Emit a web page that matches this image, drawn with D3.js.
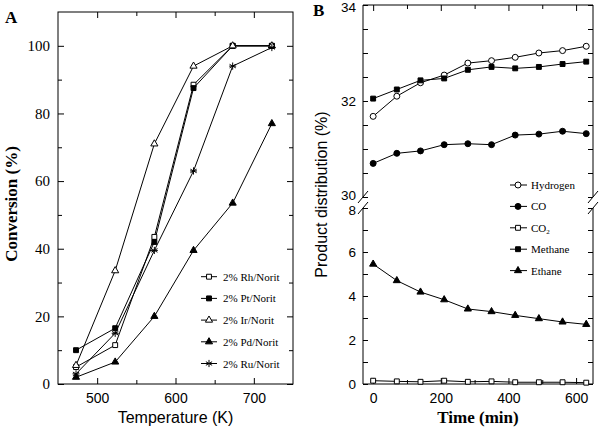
<!DOCTYPE html>
<html><head><meta charset="utf-8">
<script src="https://cdn.jsdelivr.net/npm/d3@7"></script>
<style>body{margin:0;background:#fff}svg{display:block}</style>
</head><body>
<svg id="c" width="600" height="429"></svg>
<script>
// ---------- Panel A data ----------
const temperatures = [473, 523, 573, 623, 673, 723];
const rhNorit = [5, 11.5, 43.5, 88.5, 100, 100];
const ptNorit = [10, 16.5, 42, 87.5, 100, 100];
const irNorit = [5.5, 33.5, 71, 94, 100, 100];
const pdNorit = [2, 6.5, 20, 39.5, 53.5, 77];
const ruNorit = [3, 15, 39.5, 63, 94, 99.5];
const seriesA = [
  {name: "2% Rh/Norit", values: rhNorit, sym: "square", fill: false},
  {name: "2% Pt/Norit", values: ptNorit, sym: "square", fill: true},
  {name: "2% Ir/Norit", values: irNorit, sym: "triangle", fill: false},
  {name: "2% Pd/Norit", values: pdNorit, sym: "triangle", fill: true},
  {name: "2% Ru/Norit", values: ruNorit, sym: "star", fill: false}
];
const xTicksA = [500, 600, 700];
const xMinorA = [550, 650];
const yTicksA = [0, 20, 40, 60, 80, 100];
const yMinorA = [10, 30, 50, 70, 90];

// ---------- Panel B data ----------
const times = [0, 70, 140, 210, 280, 350, 420, 490, 560, 630];
const hydrogen = [31.68, 32.10, 32.38, 32.54, 32.79, 32.84, 32.91, 33.00, 33.05, 33.14];
const methane = [32.05, 32.24, 32.43, 32.47, 32.65, 32.71, 32.68, 32.71, 32.77, 32.82];
const co = [30.70, 30.91, 30.96, 31.09, 31.11, 31.09, 31.29, 31.31, 31.37, 31.32];
const co2 = [0.15, 0.12, 0.10, 0.15, 0.10, 0.12, 0.08, 0.08, 0.08, 0.06];
const ethane = [5.45, 4.70, 4.18, 3.83, 3.41, 3.29, 3.12, 2.97, 2.82, 2.71];
const xTicksB = [0, 200, 400, 600];
const xMinorB = [100, 300, 500];
const yTicksUp = [30, 32, 34];
const yMinorUp = [30.5, 31, 31.5, 32.5, 33, 33.5];
const yTicksLo = [0, 2, 4, 6, 8];
const yMinorLo = [1, 3, 5, 7];

const svg = d3.select("#c");
const serif = "'Liberation Serif','Times New Roman',serif";
const sans = "'Liberation Sans',Arial,sans-serif";

function marker(g, sym, fill, x, y) {
  if (sym === "star") {
    g.append("path").attr("transform", `translate(${x},${y})`)
      .attr("d", d3.symbol(d3.symbolAsterisk, 36)())
      .attr("fill", "none").attr("stroke", "#000").attr("stroke-width", 1);
    g.append("path").attr("d", `M${x-3.5},${y}H${x+3.5}`).attr("stroke", "#000").attr("stroke-width", 1);
    return;
  }
  let type = sym === "square" ? d3.symbolSquare : sym === "triangle" ? d3.symbolTriangle : d3.symbolCircle;
  let size = sym === "square" ? 24 : sym === "triangle" ? 22 : 28;
  g.append("path").attr("transform", `translate(${x},${y})`)
    .attr("d", d3.symbol(type, size)())
    .attr("fill", fill ? "#000" : "#fff").attr("stroke", "#000").attr("stroke-width", 1);
}

function styleAxis(g, font, size) {
  g.select(".domain").remove();
  g.selectAll(".tick line").attr("stroke", "#000");
  g.selectAll("text").attr("font-family", font).attr("font-size", size).attr("fill", "#000");
}

// ================= Panel A =================
const A = {l: 58, r: 293, t: 12, b: 384};
const xA = d3.scaleLinear([450, 750], [A.l, A.r]);
const yA = d3.scaleLinear([0, 110], [A.b, A.t]);
const gA = svg.append("g");

gA.append("g").attr("transform", `translate(0,${A.b})`)
  .call(d3.axisBottom(xA).tickValues(xTicksA).tickSize(-6).tickPadding(9).tickFormat(d3.format("d")))
  .call(g => styleAxis(g, sans, 14));
gA.append("g").attr("transform", `translate(0,${A.b})`)
  .call(d3.axisBottom(xA).tickValues(xMinorA).tickSize(-4).tickFormat(""))
  .call(g => styleAxis(g, sans, 14));
gA.append("g").attr("transform", `translate(0,${A.t})`)
  .call(d3.axisTop(xA).tickValues(xTicksA).tickSize(-6).tickFormat(""))
  .call(g => styleAxis(g, sans, 14));
gA.append("g").attr("transform", `translate(0,${A.t})`)
  .call(d3.axisTop(xA).tickValues(xMinorA).tickSize(-4).tickFormat(""))
  .call(g => styleAxis(g, sans, 14));
gA.append("g").attr("transform", `translate(${A.l},0)`)
  .call(d3.axisLeft(yA).tickValues(yTicksA).tickSize(-6).tickPadding(8))
  .call(g => styleAxis(g, serif, 15));
gA.append("g").attr("transform", `translate(${A.l},0)`)
  .call(d3.axisLeft(yA).tickValues(yMinorA).tickSize(-4).tickFormat(""))
  .call(g => styleAxis(g, serif, 15));
gA.append("g").attr("transform", `translate(${A.r},0)`)
  .call(d3.axisRight(yA).tickValues(yTicksA).tickSize(-6).tickFormat(""))
  .call(g => styleAxis(g, serif, 15));
gA.append("g").attr("transform", `translate(${A.r},0)`)
  .call(d3.axisRight(yA).tickValues(yMinorA).tickSize(-4).tickFormat(""))
  .call(g => styleAxis(g, serif, 15));
gA.append("rect").attr("x", A.l).attr("y", A.t).attr("width", A.r - A.l).attr("height", A.b - A.t)
  .attr("fill", "none").attr("stroke", "#000").attr("stroke-width", 1);

const lineA = d3.line().x((d, i) => xA(temperatures[i])).y(d => yA(d));
seriesA.forEach(s => {
  gA.append("path").attr("d", lineA(s.values)).attr("fill", "none").attr("stroke", "#000").attr("stroke-width", 1);
});
seriesA.forEach(s => {
  s.values.forEach((v, i) => marker(gA, s.sym, s.fill, xA(temperatures[i]), yA(v)));
});

// legend A
seriesA.forEach((s, i) => {
  const y = 276.7 + i * 21.7;
  gA.append("path").attr("d", `M201,${y}H217`).attr("stroke", "#000").attr("stroke-width", 1);
  marker(gA, s.sym, s.fill, 209, y);
  gA.append("text").attr("x", 223).attr("y", y + 4).text(s.name)
    .attr("font-family", serif).attr("font-size", 11);
});

gA.append("text").attr("x", (A.l + A.r) / 2).attr("y", 423).attr("text-anchor", "middle")
  .attr("font-family", sans).attr("font-size", 16).text("Temperature (K)");
gA.append("text").attr("transform", `translate(17,${(A.t + A.b) / 2 + 6}) rotate(-90)`).attr("text-anchor", "middle")
  .attr("font-family", serif).attr("font-weight", "bold").attr("font-size", 17).text("Conversion (%)");
gA.append("text").attr("x", 5).attr("y", 23).attr("font-family", serif).attr("font-weight", "bold")
  .attr("font-size", 17).text("A");

// ================= Panel B =================
const B = {l: 363, r: 593, t: 5, mid1: 197, mid2: 208, b: 384};
const xB = d3.scaleLinear([-30, 650], [B.l, B.r]);
const yUp = d3.scaleLinear([30, 34], [B.mid1, B.t]);
const yLo = d3.scaleLinear([0, 8], [B.b, B.mid2]);
const gB = svg.append("g");

gB.append("g").attr("transform", `translate(0,${B.b})`)
  .call(d3.axisBottom(xB).tickValues(xTicksB).tickSize(-6).tickPadding(9).tickFormat(d3.format("d")))
  .call(g => styleAxis(g, sans, 14));
gB.append("g").attr("transform", `translate(0,${B.b})`)
  .call(d3.axisBottom(xB).tickValues(xMinorB).tickSize(-4).tickFormat(""))
  .call(g => styleAxis(g, sans, 14));
gB.append("g").attr("transform", `translate(0,${B.t})`)
  .call(d3.axisTop(xB).tickValues(xTicksB).tickSize(-6).tickFormat(""))
  .call(g => styleAxis(g, sans, 14));
gB.append("g").attr("transform", `translate(0,${B.t})`)
  .call(d3.axisTop(xB).tickValues(xMinorB).tickSize(-4).tickFormat(""))
  .call(g => styleAxis(g, sans, 14));
const leftUp = gB.append("g").attr("transform", `translate(${B.l},0)`)
  .call(d3.axisLeft(yUp).tickValues(yTicksUp).tickSize(-5).tickPadding(7).tickFormat(d3.format("d")))
  .call(g => styleAxis(g, sans, 13.5));
const leftLo = gB.append("g").attr("transform", `translate(${B.l},0)`)
  .call(d3.axisLeft(yLo).tickValues(yTicksLo).tickSize(-5).tickPadding(7).tickFormat(d3.format("d")))
  .call(g => styleAxis(g, sans, 13.5));
[[yUp, yTicksUp, yMinorUp], [yLo, yTicksLo, yMinorLo]].forEach(([ys, maj, min]) => {
  gB.append("g").attr("transform", `translate(${B.l},0)`)
    .call(d3.axisLeft(ys).tickValues(min).tickSize(-5).tickFormat(""))
    .call(g => styleAxis(g, sans, 13.5));
  gB.append("g").attr("transform", `translate(${B.r},0)`)
    .call(d3.axisRight(ys).tickValues(maj.concat(min)).tickSize(-5).tickFormat(""))
    .call(g => styleAxis(g, sans, 13.5));
});
// nudge labels near the edge and the break
leftUp.selectAll(".tick text").filter(d => d === 34).attr("dy", "0.45em");
leftUp.selectAll(".tick text").filter(d => d === 30).attr("dy", "0.18em");
leftLo.selectAll(".tick text").filter(d => d === 8).attr("dy", "0.5em");
// frame with break
const fr = gB.append("g").attr("stroke", "#000").attr("stroke-width", 1).attr("fill", "none");
fr.append("path").attr("d", `M${B.l},${B.mid1}V${B.t}H${B.r}V${B.mid1}`);
fr.append("path").attr("d", `M${B.l},${B.mid2}V${B.b}H${B.r}V${B.mid2}`);
[B.l, B.r].forEach(x => {
  [B.mid1, B.mid2].forEach(y => {
    fr.append("path").attr("d", `M${x-5},${y+6}L${x+5},${y-6}`).attr("fill", "#fff");
  });
});

const lineUp = d3.line().x((d, i) => xB(times[i])).y(d => yUp(d));
const lineLo = d3.line().x((d, i) => xB(times[i])).y(d => yLo(d));
const seriesB = [
  {name: "Hydrogen", values: hydrogen, sym: "circle", fill: false, up: true},
  {name: "CO", values: co, sym: "circle", fill: true, up: true},
  {name: "CO2", values: co2, sym: "square", fill: false, up: false},
  {name: "Methane", values: methane, sym: "square", fill: true, up: true},
  {name: "Ethane", values: ethane, sym: "triangle", fill: true, up: false}
];
seriesB.forEach(s => {
  gB.append("path").attr("d", (s.up ? lineUp : lineLo)(s.values))
    .attr("fill", "none").attr("stroke", "#000").attr("stroke-width", 1);
});
seriesB.forEach(s => {
  const ys = s.up ? yUp : yLo;
  s.values.forEach((v, i) => marker(gB, s.sym, s.fill, xB(times[i]), ys(v)));
});

// legend B
seriesB.forEach((s, i) => {
  const y = 185 + i * 21.4;
  gB.append("path").attr("d", `M510,${y}H527`).attr("stroke", "#000").attr("stroke-width", 1);
  marker(gB, s.sym, s.fill, 518, y);
  const t = gB.append("text").attr("x", 531).attr("y", y + 4)
    .attr("font-family", serif).attr("font-size", 11);
  if (s.name === "CO2") {
    t.append("tspan").text("CO");
    t.append("tspan").attr("font-size", 7).attr("dy", 2).text("2");
  } else t.text(s.name);
});

gB.append("text").attr("x", (B.l + B.r) / 2).attr("y", 423).attr("text-anchor", "middle")
  .attr("font-family", serif).attr("font-weight", "bold").attr("font-size", 17).text("Time (min)");
gB.append("text").attr("transform", `translate(327,${(B.t + B.b) / 2}) rotate(-90)`).attr("text-anchor", "middle")
  .attr("font-family", sans).attr("font-size", 16).text("Product distribution (%)");
gB.append("text").attr("x", 313).attr("y", 16).attr("font-family", serif).attr("font-weight", "bold")
  .attr("font-size", 17).text("B");
</script>
</body></html>
